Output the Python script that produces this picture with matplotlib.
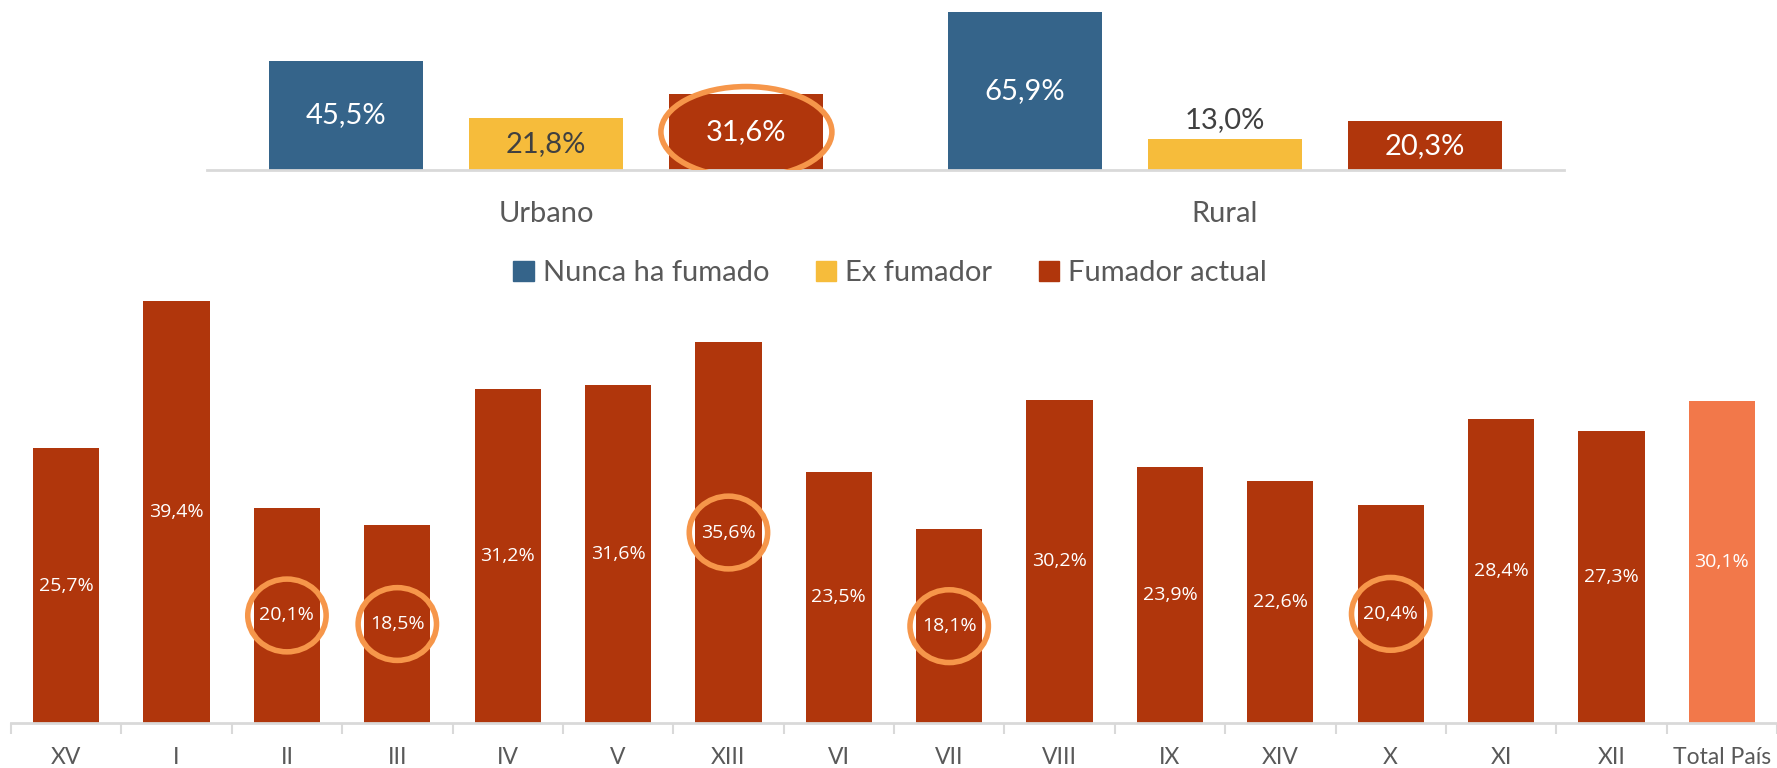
import matplotlib.pyplot as plt
from matplotlib.patches import Ellipse, Patch

# 데이터
zonas = ['Urbano', 'Rural']
series = ['Nunca ha fumado', 'Ex fumador', 'Fumador actual']
nunca = [45.5, 65.9]
ex_fum = [21.8, 13.0]
actual = [31.6, 20.3]

regiones = ['XV', 'I', 'II', 'III', 'IV', 'V', 'XIII', 'VI', 'VII', 'VIII',
            'IX', 'XIV', 'X', 'XI', 'XII', 'Total País']
fumador = [25.7, 39.4, 20.1, 18.5, 31.2, 31.6, 35.6, 23.5, 18.1, 30.2,
           23.9, 22.6, 20.4, 28.4, 27.3, 30.1]
marcadas = ['II', 'III', 'XIII', 'VII', 'X']   # 동그라미 표시

c_blue = '#35648A'
c_yel = '#F6BC3B'
c_red = '#B0360C'
c_tot = '#F2784A'
c_circ = '#F6964A'
c_grid = '#D9D9D9'
c_txt = '#595959'

plt.rcParams['font.family'] = ['Lato', 'DejaVu Sans']

fig = plt.figure(figsize=(17.77, 7.68), dpi=100)
W, H = 1777, 768

def box(x0, x1, ybot, ytop):
    return [x0 / W, 1 - ybot / H, (x1 - x0) / W, (ybot - ytop) / H]

# 위쪽 차트 (Urbano / Rural)
ax1 = fig.add_axes(box(207, 1564, 170, 170 - 70 * 2.405))
ax1.set_xlim(-0.5, 1.5)
ax1.set_ylim(0, 70)
off = 0.295
bw = 0.227
for k, (vals, col) in enumerate([(nunca, c_blue), (ex_fum, c_yel), (actual, c_red)]):
    xs = [i + (k - 1) * off for i in range(len(zonas))]
    ax1.bar(xs, vals, width=bw, color=col, label=series[k])
    for x, v in zip(xs, vals):
        lab = f'{v:.1f}%'.replace('.', ',')
        tc = '#404040' if col == c_yel else 'white'
        if v < 15:
            ax1.text(x, v + 2.5, lab, ha='center', va='bottom', fontsize=21, color='#404040')
        else:
            ax1.text(x, v / 2, lab, ha='center', va='center', fontsize=21, color=tc)

ax1.add_patch(Ellipse((0 + off, actual[0] / 2), 0.252, 37.8, fill=False,
                      edgecolor=c_circ, linewidth=4, zorder=5))

ax1.set_xticks(range(len(zonas)))
ax1.set_xticklabels(zonas, fontsize=21, color=c_txt)
ax1.tick_params(axis='x', length=0, pad=22)
ax1.set_yticks([])
for s in ['top', 'left', 'right']:
    ax1.spines[s].set_visible(False)
ax1.spines['bottom'].set_color(c_grid)
ax1.spines['bottom'].set_linewidth(2)

# 범례
handles = [Patch(color=c) for c in [c_blue, c_yel, c_red]]
fig.legend(handles, series, loc='center', bbox_to_anchor=(890 / W, 1 - 273 / H),
           ncol=3, frameon=False, fontsize=21, labelcolor=c_txt,
           handlelength=0.7, handleheight=0.7, handletextpad=0.3, columnspacing=1.6)

# 아래쪽 차트 (지역별)
ax2 = fig.add_axes(box(11, 1777, 723, 723 - 42 * 10.7))
ax2.set_xlim(-0.5, len(regiones) - 0.5)
ax2.set_ylim(0, 42)
cols = [c_tot if r == 'Total País' else c_red for r in regiones]
ax2.bar(range(len(regiones)), fumador, width=0.6, color=cols)
for i, (r, v) in enumerate(zip(regiones, fumador)):
    ax2.text(i, v / 2, f'{v:.1f}%'.replace('.', ','), ha='center', va='center',
             fontsize=14, color='white', family=['Open Sans', 'DejaVu Sans'])
    if r in marcadas:
        ax2.add_patch(Ellipse((i, v / 2), 0.71, 6.8, fill=False,
                              edgecolor=c_circ, linewidth=4, zorder=5))

ax2.set_xticks(range(len(regiones)))
ax2.set_xticklabels(regiones, fontsize=16.5, color=c_txt)
ax2.set_xticks([i - 0.5 for i in range(len(regiones) + 1)], minor=True)
ax2.tick_params(axis='x', which='major', length=0, pad=17)
ax2.tick_params(axis='x', which='minor', length=8, width=1.5, color=c_grid)
ax2.set_yticks([])
for s in ['top', 'left', 'right']:
    ax2.spines[s].set_visible(False)
ax2.spines['bottom'].set_color(c_grid)
ax2.spines['bottom'].set_linewidth(2)

plt.savefig('out.png', dpi=100)
